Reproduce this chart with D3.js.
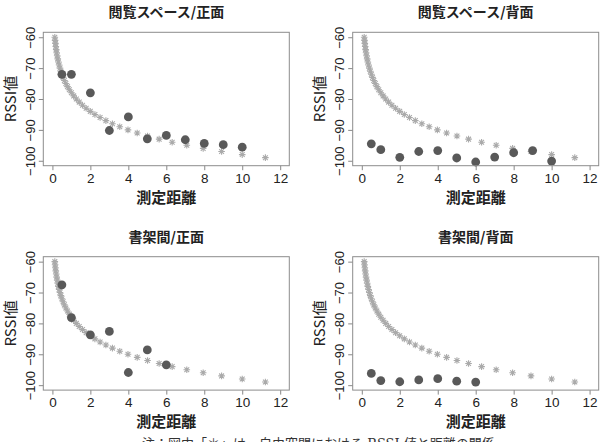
<!DOCTYPE html>
<html>
<head>
<meta charset="utf-8">
<script src="https://cdn.jsdelivr.net/npm/d3@7"></script>
<style>
  html, body { margin: 0; padding: 0; background: #fff; }
  svg { display: block; }
</style>
</head>
<body>
<div id="chart"></div>
<script>
// 測定点（距離 m）
var distAll = [0.5, 1, 2, 3, 4, 5, 6, 7, 8, 9, 10];
var distShelf = [0.5, 1, 2, 3, 4, 5, 6];

var rssiLobbyFront = [-72, -72, -78, -90.2, -85.8, -92.9, -91.8, -93.2, -94.4, -94.8, -95.6];
var rssiLobbyBack = [-94.5, -96.4, -98.9, -97.0, -96.7, -99.1, -100.4, -98.8, -97.4, -96.7, -100.1];
var rssiShelfFront = [-67.5, -78.1, -83.7, -82.6, -95.9, -88.6, -93.4];
var rssiShelfBack = [-96.2, -98.5, -98.9, -98.3, -97.9, -98.7, -99.0];

// 自由空間（＊）の点
var freeRssi = [-60, -61, -62, -63, -64, -65, -66, -67, -68, -69,
                -70, -71, -72, -73, -74, -75, -76, -77, -78, -79,
                -80, -81, -82, -83, -84, -85, -86, -87, -88, -89,
                -90, -91, -92, -93, -94, -95, -96, -97, -98, -99];
var freeDist = [0.126, 0.141, 0.158, 0.178, 0.2, 0.224, 0.251, 0.282, 0.316, 0.355,
                0.398, 0.447, 0.501, 0.562, 0.631, 0.708, 0.794, 0.891, 1.0, 1.122,
                1.259, 1.413, 1.585, 1.778, 1.995, 2.239, 2.512, 2.818, 3.162, 3.548,
                3.981, 4.467, 5.012, 5.623, 6.31, 7.079, 7.943, 8.913, 10.0, 11.22];

var panelTitles = ["閲覧スペース/正面", "閲覧スペース/背面", "書架間/正面", "書架間/背面"];
var xTicks = [0, 2, 4, 6, 8, 10, 12];
var yTicks = [-100, -90, -80, -70, -60];
var xLabel = "測定距離", yLabel = "RSSI値";
var note = "注：図中「＊」は、自由空間における RSSI 値と距離の関係";

var panels = [
    {title: panelTitles[0], x: distAll, y: rssiLobbyFront},
    {title: panelTitles[1], x: distAll, y: rssiLobbyBack},
    {title: panelTitles[2], x: distShelf, y: rssiShelfFront},
    {title: panelTitles[3], x: distShelf, y: rssiShelfBack}
];

var width = 604, height = 442,
    boxW = 246, boxH = 133.4,
    lefts = [43.3, 352.7], tops = [32.3, 256.7];

var cjk = "'Noto Sans CJK JP', sans-serif",
    latin = "Arial, 'Liberation Sans', sans-serif";

var svg = d3.select("#chart").append("svg")
    .attr("width", width)
    .attr("height", height);

// xlim 0..12, ylim -100..-60 に4%の余白
var scale_x = d3.scaleLinear().domain([-0.48, 12.48]).range([0, boxW]);
var scale_y = d3.scaleLinear().domain([-101.6, -58.4]).range([boxH, 0]);

var freePts = freeDist.map(function (d, i) { return {x: d, y: freeRssi[i]}; });

var starPath = "M-3.3,0H3.3M0,-3.3V3.3M-2.4,-2.4L2.4,2.4M-2.4,2.4L2.4,-2.4";

panels.forEach(function (p, i) {
    var g = svg.append("g")
        .attr("transform", "translate(" + lefts[i % 2] + "," + tops[Math.floor(i / 2)] + ")");

    // タイトル
    g.append("text")
        .text(p.title)
        .attr("x", boxW / 2)
        .attr("y", -15)
        .attr("text-anchor", "middle")
        .style("font-family", cjk)
        .style("font-weight", "bold")
        .style("font-size", "14px")
        .style("fill", "#222");

    // X軸
    var x_axis = g.append("g")
        .attr("transform", "translate(0," + boxH + ")")
        .call(d3.axisBottom(scale_x).tickValues(xTicks).tickSize(4.5).tickPadding(3));
    x_axis.select(".domain").remove();
    x_axis.selectAll("line").attr("stroke", "#888");
    x_axis.selectAll("text")
        .attr("font-family", null)
        .style("font-family", latin)
        .style("font-size", "13.5px")
        .style("fill", "#222");

    // Y軸（ラベルは軸に平行）
    var y_axis = g.append("g")
        .call(d3.axisLeft(scale_y).tickValues(yTicks).tickSize(4.5).tickFormat(d3.format("d")));
    y_axis.select(".domain").remove();
    y_axis.selectAll("line").attr("stroke", "#888");
    y_axis.selectAll("text")
        .attr("x", null)
        .attr("dy", "0.35em")
        .attr("text-anchor", "middle")
        .attr("transform", "translate(-13.3,0) rotate(-90)")
        .style("font-family", latin)
        .style("font-size", "13px")
        .style("fill", "#222");

    // 軸ラベル
    g.append("text")
        .text(xLabel)
        .attr("x", boxW / 2)
        .attr("y", boxH + 37)
        .attr("text-anchor", "middle")
        .style("font-family", cjk)
        .style("font-weight", "bold")
        .style("font-size", "15px")
        .style("fill", "#222");

    g.append("text")
        .text(yLabel)
        .attr("transform", "translate(-33," + (boxH / 2) + ") rotate(-90)")
        .attr("dy", "0.35em")
        .attr("text-anchor", "middle")
        .style("font-family", cjk)
        .style("font-size", "15px")
        .style("fill", "#222");

    // 自由空間の＊
    g.selectAll(".star")
        .data(freePts)
        .enter()
        .append("path")
        .attr("d", starPath)
        .attr("transform", function (d) {
            return "translate(" + scale_x(d.x) + "," + scale_y(d.y) + ")";
        })
        .attr("stroke", "#aaaaaa")
        .attr("stroke-width", 1.1)
        .attr("fill", "none");

    // 実測値
    g.selectAll(".dot")
        .data(p.x.map(function (d, k) { return {x: d, y: p.y[k]}; }))
        .enter()
        .append("circle")
        .attr("cx", function (d) { return scale_x(d.x); })
        .attr("cy", function (d) { return scale_y(d.y); })
        .attr("r", 4.4)
        .attr("fill", "#595959");

    // 枠
    g.append("rect")
        .attr("width", boxW)
        .attr("height", boxH)
        .attr("fill", "none")
        .attr("stroke", "#8c8c8c")
        .attr("stroke-width", 1);
});

// 注（参照図では下端で切れている）
svg.append("text")
    .text(note)
    .attr("x", 142)
    .attr("y", 448)
    .style("font-family", "'DejaVu Serif', " + cjk)
    .style("font-size", "13px")
    .style("fill", "#333");
</script>
</body>
</html>
